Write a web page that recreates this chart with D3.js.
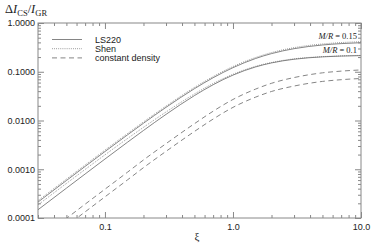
<!DOCTYPE html>
<html>
<head>
<meta charset="utf-8">
<script src="https://cdn.jsdelivr.net/npm/d3@7"></script>
<style>
  body { margin: 0; background: #fff; }
  text { font-family: "Liberation Sans", Arial, sans-serif; fill: #222; }
  .serif { font-family: "Liberation Serif", "DejaVu Serif", serif; }
</style>
</head>
<body>
<div id="chart"></div>
<script>
const xi = [0.03, 0.05, 0.07, 0.1, 0.15, 0.2, 0.3, 0.5, 0.7, 1, 1.5, 2, 3, 5, 7, 10];

// LS220 (solid)
const ls220_015 = [2.123e-4, 5.868e-4, 1.143e-3, 2.307e-3, 5.075e-3, 8.79e-3, 1.863e-2, 4.496e-2, 7.548e-2, 0.1214, 0.1868, 0.2357, 0.2974, 0.3538, 0.3779, 0.3943];
const ls220_010 = [1.477e-4, 4.091e-4, 7.988e-4, 1.6185e-3, 3.584e-3, 6.244e-3, 1.335e-2, 3.243e-2, 5.418e-2, 8.533e-2, 0.1255, 0.1518, 0.1806, 0.2021, 0.2097, 0.2143];
// Shen (dotted)
const shen_015 = [2.272e-4, 6.279e-4, 1.223e-3, 2.468e-3, 5.405e-3, 9.36e-3, 1.975e-2, 4.766e-2, 7.963e-2, 0.1281, 0.1961, 0.2475, 0.3123, 0.3715, 0.3968, 0.4140];
const shen_010 = [1.861e-4, 5.114e-4, 9.905e-4, 1.975e-3, 4.265e-3, 7.243e-3, 1.495e-2, 3.502e-2, 5.743e-2, 8.874e-2, 0.1293, 0.1548, 0.1842, 0.2041, 0.2118, 0.2164];
// constant density (dashed)
const const_015 = [3.53e-5, 9.8e-5, 1.92e-4, 3.9e-4, 8.7e-4, 1.55e-3, 3.35e-3, 8.6e-3, 1.55e-2, 2.7e-2, 4.4e-2, 5.8e-2, 7.6e-2, 9.5e-2, 0.103, 0.109];
const const_010 = [2.46e-5, 6.82e-5, 1.336e-4, 2.714e-4, 6.05e-4, 1.078e-3, 2.33e-3, 5.96e-3, 1.07e-2, 1.86e-2, 3.01e-2, 3.94e-2, 5.09e-2, 6.33e-2, 6.87e-2, 7.28e-2];

const yTicks = [1e-4, 1e-3, 1e-2, 1e-1, 1];
const xTicks = [0.1, 1, 10];
const legendNames = ["LS220", "Shen", "constant density"];

const width = 374, height = 246;
const margin = { top: 23, right: 13, bottom: 28, left: 38 };
const lineColor = "#666";
const axisColor = "#888";

const svg = d3.select("#chart").append("svg")
  .attr("width", width)
  .attr("height", height);

const x = d3.scaleLog().domain([0.03, 10]).range([margin.left, width - margin.right]);
const y = d3.scaleLog().domain([1e-4, 1]).range([height - margin.bottom, margin.top]);

// minor ticks, 2..9 in each decade
const minorX = [];
[0.01, 0.1, 1].forEach(d => d3.range(2, 10).forEach(k => { const v = d * k; if (v >= 0.03 && v < 10) minorX.push(v); }));
const minorY = [];
[1e-4, 1e-3, 1e-2, 1e-1].forEach(d => d3.range(2, 10).forEach(k => minorY.push(d * k)));

svg.append("clipPath").attr("id", "clip")
  .append("rect")
  .attr("x", margin.left).attr("y", margin.top)
  .attr("width", width - margin.left - margin.right)
  .attr("height", height - margin.top - margin.bottom);

// series
const series = [
  { v: ls220_015, dash: null },
  { v: ls220_010, dash: null },
  { v: shen_015, dash: "0.8,1.3" },
  { v: shen_010, dash: "0.8,1.3" },
  { v: const_015, dash: "5,3.5" },
  { v: const_010, dash: "5,3.5" }
];

const line = d3.line()
  .x((d, i) => x(xi[i]))
  .y(d => y(d))
  .curve(d3.curveMonotoneX);

svg.append("g").attr("clip-path", "url(#clip)")
  .selectAll("path")
  .data(series)
  .join("path")
  .attr("fill", "none")
  .attr("stroke", lineColor)
  .attr("stroke-width", 0.8)
  .attr("stroke-dasharray", d => d.dash)
  .attr("d", d => line(d.v));

// axes (ticks pointing inward)
function styleAxis(g) {
  g.select(".domain").remove();
  g.selectAll("line").attr("stroke", axisColor);
  g.selectAll("text").attr("font-size", 9);
}

svg.append("g").attr("transform", `translate(${margin.left},0)`)
  .call(d3.axisLeft(y).tickValues(yTicks).tickSize(-6).tickPadding(3).tickFormat(d3.format(".4f")))
  .call(styleAxis);
svg.append("g").attr("transform", `translate(${margin.left},0)`)
  .call(d3.axisLeft(y).tickValues(minorY).tickSize(-3).tickFormat(""))
  .call(styleAxis);
svg.append("g").attr("transform", `translate(${width - margin.right},0)`)
  .call(d3.axisRight(y).tickValues(yTicks).tickSize(-6).tickFormat(""))
  .call(styleAxis);
svg.append("g").attr("transform", `translate(${width - margin.right},0)`)
  .call(d3.axisRight(y).tickValues(minorY).tickSize(-3).tickFormat(""))
  .call(styleAxis);

svg.append("g").attr("transform", `translate(0,${height - margin.bottom})`)
  .call(d3.axisBottom(x).tickValues(xTicks).tickSize(-6).tickPadding(6).tickFormat(d3.format(".1f")))
  .call(styleAxis);
svg.append("g").attr("transform", `translate(0,${height - margin.bottom})`)
  .call(d3.axisBottom(x).tickValues(minorX).tickSize(-3).tickFormat(""))
  .call(styleAxis);
svg.append("g").attr("transform", `translate(0,${margin.top})`)
  .call(d3.axisTop(x).tickValues(xTicks).tickSize(-6).tickFormat(""))
  .call(styleAxis);
svg.append("g").attr("transform", `translate(0,${margin.top})`)
  .call(d3.axisTop(x).tickValues(minorX).tickSize(-3).tickFormat(""))
  .call(styleAxis);

// frame
svg.append("rect")
  .attr("x", margin.left).attr("y", margin.top)
  .attr("width", width - margin.left - margin.right)
  .attr("height", height - margin.top - margin.bottom)
  .attr("fill", "none")
  .attr("stroke", axisColor)
  .attr("stroke-width", 1);

// axis titles
const title = svg.append("text").attr("class", "serif")
  .attr("x", 5).attr("y", 13).attr("font-size", 12.5);
title.append("tspan").text("\u0394");
title.append("tspan").attr("font-style", "italic").text("I");
title.append("tspan").attr("font-size", 8.5).attr("dy", 2.5).text("CS");
title.append("tspan").attr("dy", -2.5).text("/");
title.append("tspan").attr("font-style", "italic").text("I");
title.append("tspan").attr("font-size", 8.5).attr("dy", 2.5).text("GR");

svg.append("text").attr("class", "serif")
  .attr("x", 197).attr("y", 240)
  .attr("text-anchor", "middle")
  .attr("font-size", 11)
  .text("\u03be");

// legend
const legend = svg.append("g");
legend.selectAll("line")
  .data(legendNames)
  .join("line")
  .attr("x1", 52).attr("x2", 82)
  .attr("y1", (d, i) => 39.5 + i * 9.2)
  .attr("y2", (d, i) => 39.5 + i * 9.2)
  .attr("stroke", lineColor)
  .attr("stroke-width", 0.8)
  .attr("stroke-dasharray", (d, i) => series[i * 2].dash);
legend.selectAll("text")
  .data(legendNames)
  .join("text")
  .attr("x", 95)
  .attr("y", (d, i) => 39.5 + i * 9.2)
  .attr("dy", "0.35em")
  .attr("font-size", 9)
  .text(d => d);

// M/R labels
const mr = svg.selectAll("text.mr")
  .data(["0.15", "0.1"])
  .join("text")
  .attr("class", "mr serif")
  .attr("x", 357)
  .attr("y", (d, i) => 39 + i * 14)
  .attr("text-anchor", "end")
  .attr("font-size", 8.5);
mr.append("tspan").attr("font-style", "italic").text("M/R");
mr.append("tspan").text(d => " = " + d);
</script>
</body>
</html>
